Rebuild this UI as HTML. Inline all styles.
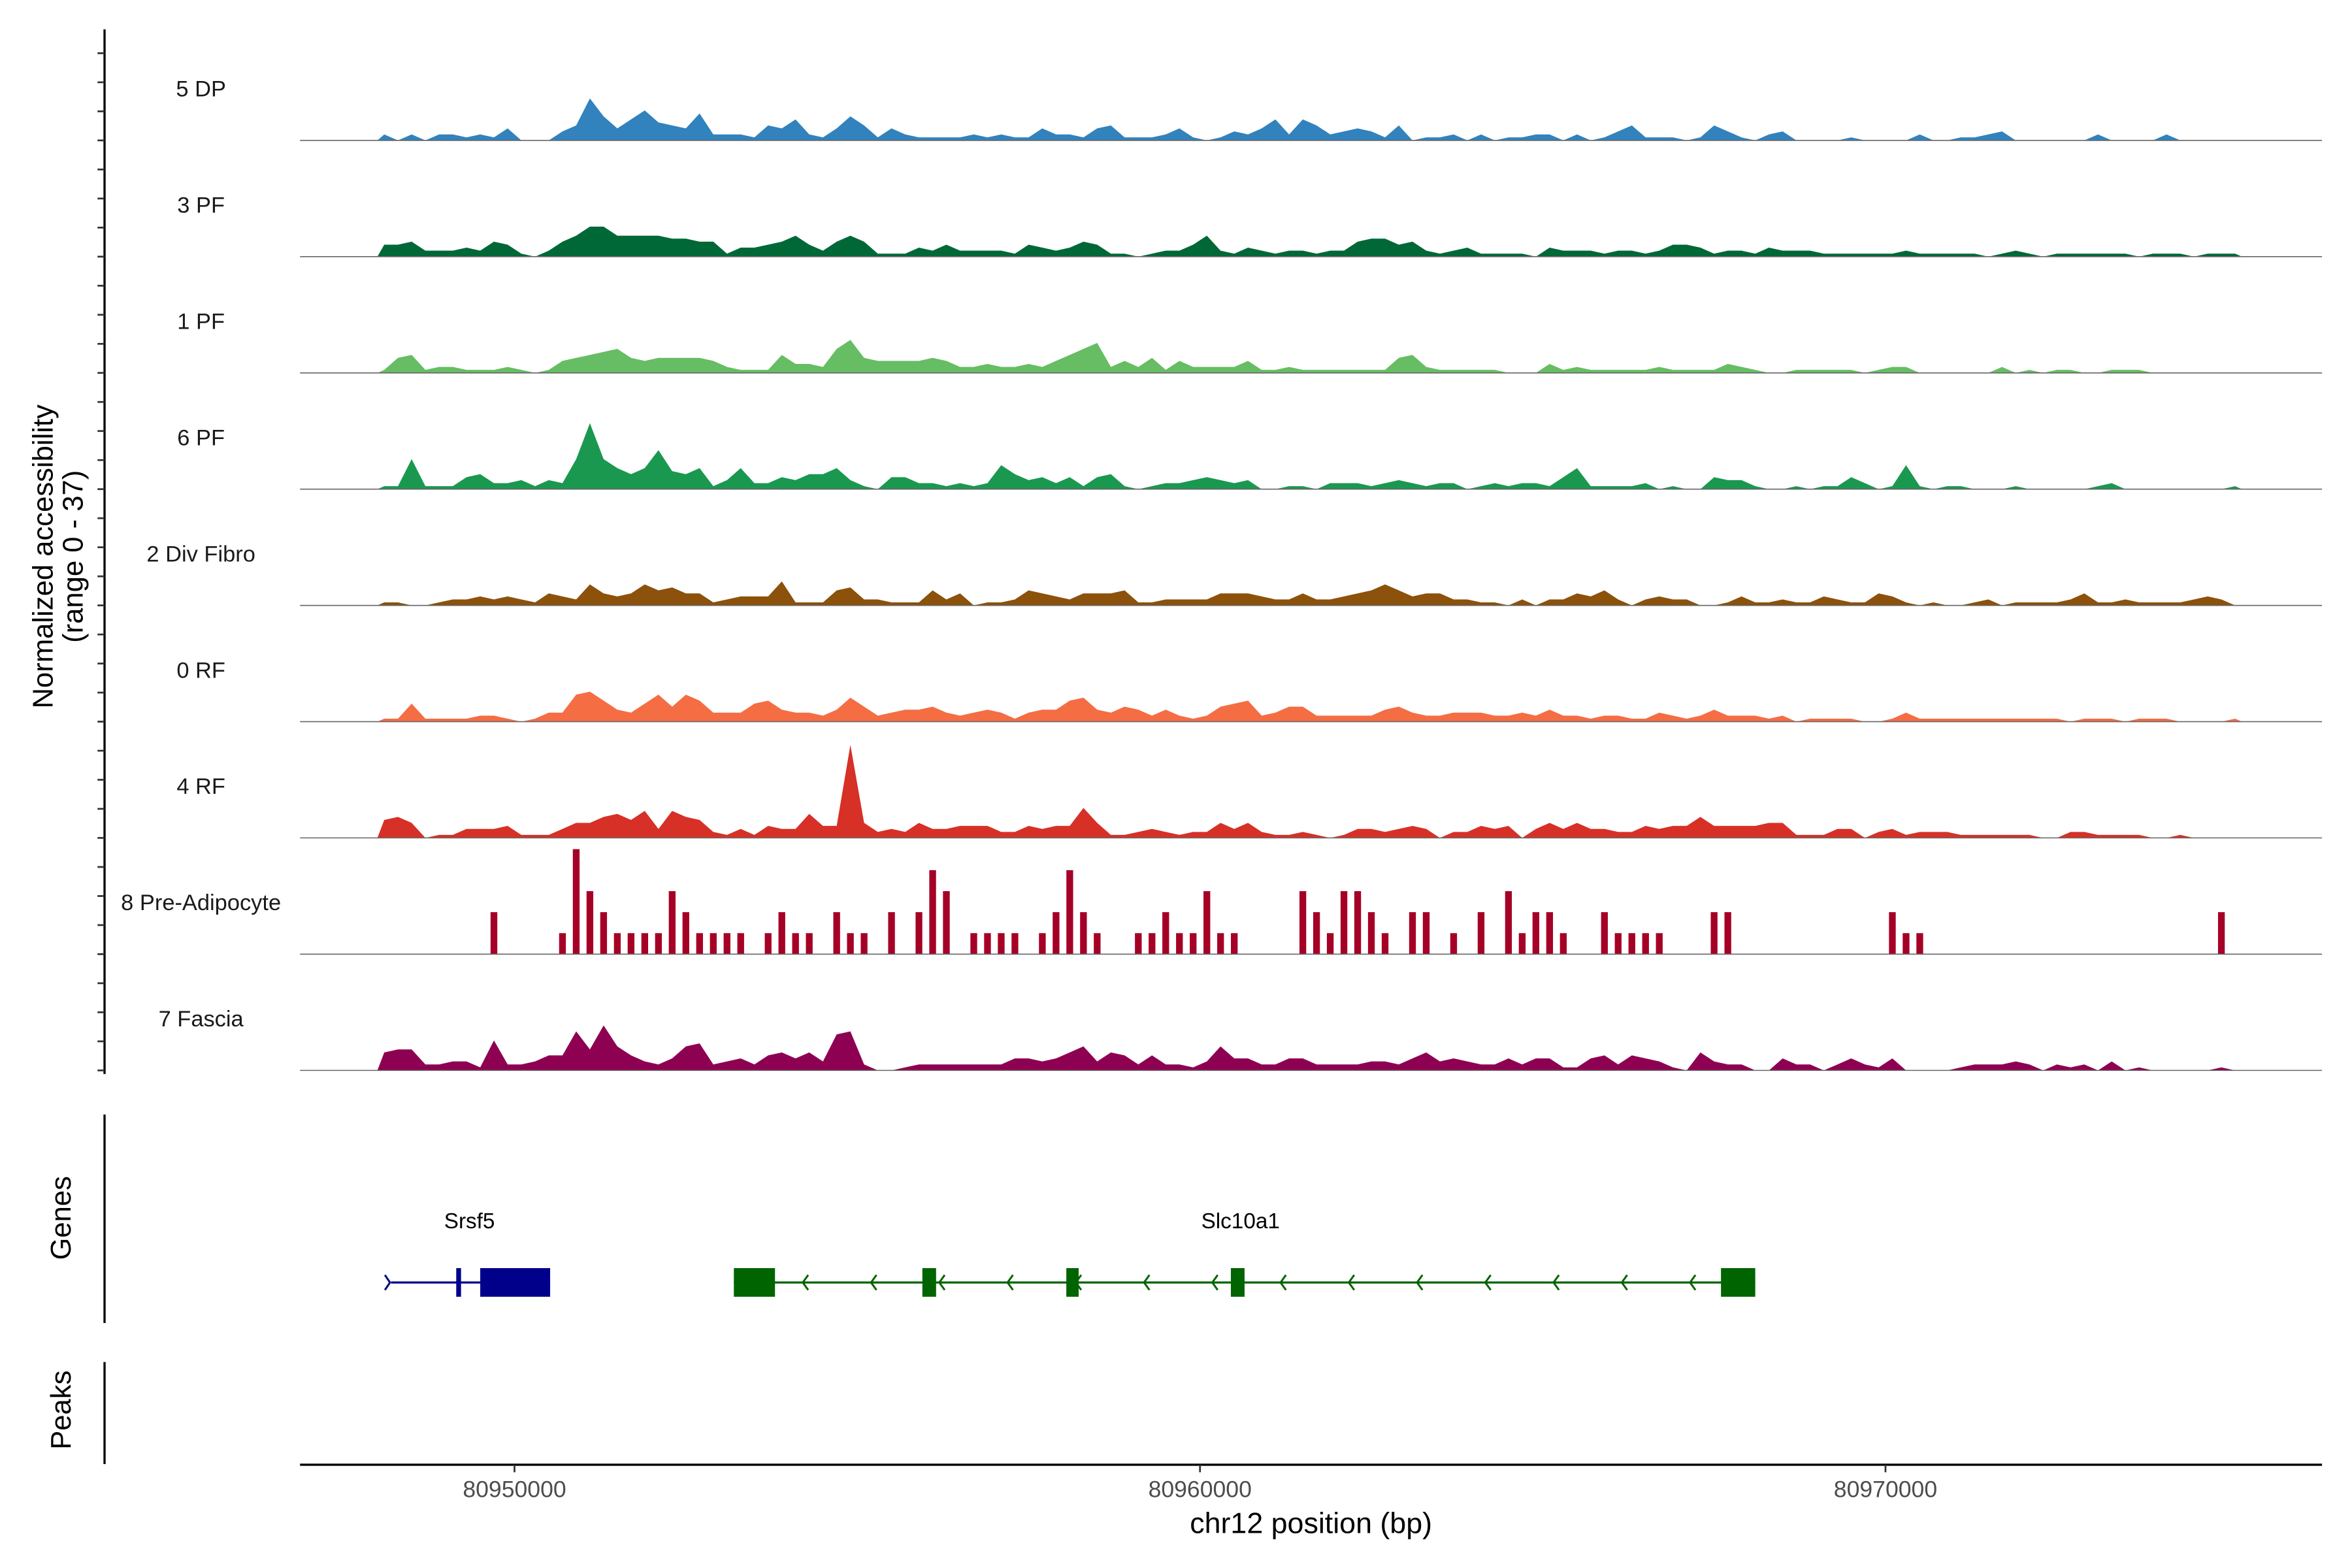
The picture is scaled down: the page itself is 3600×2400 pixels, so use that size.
<!DOCTYPE html>
<html><head><meta charset="utf-8"><title>Coverage plot</title>
<style>html,body{margin:0;padding:0;background:#fff;}svg{display:block;font-family:"Liberation Sans",Arial,sans-serif;}</style>
</head><body>
<svg id="chart" xmlns="http://www.w3.org/2000/svg" width="3600" height="2400" viewBox="0 0 1568 1045.33" preserveAspectRatio="none">
<g id="axes"></g>
<g id="tracks"></g>
<g id="genes"></g>
</svg>
<script>
const trackNames = ["5 DP","3 PF","1 PF","6 PF","2 Div Fibro","0 RF","4 RF","8 Pre-Adipocyte","7 Fascia"];
const trackColors = ["#3182BD","#006837","#66BD63","#1A9850","#8C510A","#F46D43","#D73027","#A50026","#8E0152"];
const binStart = 80948000;
const binSize = 200;
const xTicks = [80950000, 80960000, 80970000];
const dp = [2,0,2,0,2,2,1,2,1,4, 0,0,0,3,5,14,8,4,7,10, 6,5,4,9,2,2,2,1,5,4, 7,2,1,4,8,5,1,4,2,1, 1,1,1,2,1,2,1,1,4,2, 2,1,4,5,1,1,1,2,4,1, 0,1,3,2,4,7,2,7,5,2, 3,4,3,1,5,0,1,1,2,0, 2,0,1,1,2,2,0,2,0,1, 3,5,1,1,1,0,1,5,3,1, 0,2,3,0,0,0,0,1,0,0, 0,0,2,0,0,1,1,2,3,0, 0,0,0,0,0,2,0,0,0,0, 2,0,0,0,0,0];
const pf3 = [4,4,5,2,2,2,3,2,5,4, 1,0,2,5,7,10,10,7,7,7, 7,6,6,5,5,1,3,3,4,5, 7,4,2,5,7,5,1,1,1,3, 2,4,2,2,2,2,1,4,3,2, 3,5,4,1,1,0,1,2,2,4, 7,2,1,3,2,1,2,2,1,2, 2,5,6,6,4,5,2,1,2,3, 1,1,1,1,0,3,2,2,2,1, 2,2,1,2,4,4,3,1,2,2, 1,3,2,2,2,1,1,1,1,1, 1,2,1,1,1,1,1,0,1,2, 1,0,1,1,1,1,1,1,0,1, 1,1,0,1,1,1];
const pf1 = [1,5,6,1,2,2,1,1,1,2, 1,0,1,4,5,6,7,8,5,4, 5,5,5,5,4,2,1,1,1,6, 3,3,2,8,11,5,4,4,4,4, 5,4,2,2,3,2,2,3,2,4, 6,8,10,2,4,2,5,1,4,2, 2,2,2,4,1,1,2,1,1,1, 1,1,1,1,5,6,2,1,1,1, 1,1,0,0,0,3,1,2,1,1, 1,1,1,2,1,1,1,1,3,2, 1,0,0,1,1,1,1,1,0,1, 2,2,0,0,0,0,0,0,2,0, 1,0,1,1,0,0,1,1,1,0, 0,0,0,0,0,0];
const pf6 = [1,1,10,1,1,1,4,5,2,2, 3,1,3,2,10,22,10,7,5,7, 13,6,5,7,1,3,7,2,2,4, 3,5,5,7,3,1,0,4,4,2, 2,1,2,1,2,8,5,3,4,2, 4,1,4,5,1,0,1,2,2,3, 4,3,2,3,0,0,1,1,0,2, 2,2,1,2,3,2,1,2,2,0, 1,2,1,2,2,1,4,7,1,1, 1,1,2,0,1,0,0,4,3,3, 1,0,0,1,0,1,1,4,2,0, 1,8,1,0,1,1,0,0,0,1, 0,0,0,0,0,1,2,0,0,0, 0,0,0,0,0,1];
const divFibro = [1,1,0,0,1,2,2,3,2,3, 2,1,4,3,2,7,4,3,4,7, 5,6,4,4,1,2,3,3,3,8, 1,1,1,5,6,2,2,1,1,1, 5,2,4,0,1,1,2,5,4,3, 2,4,4,4,5,1,1,2,2,2, 2,4,4,4,3,2,2,4,2,2, 3,4,5,7,5,3,4,4,2,2, 1,1,0,2,0,2,2,4,3,5, 2,0,2,3,2,2,0,0,1,3, 1,1,2,1,1,3,2,1,1,4, 3,1,0,1,0,0,1,2,0,1, 1,1,1,2,4,1,1,2,1,1, 1,1,2,3,2,0];
const rf0 = [1,1,6,1,1,1,1,2,2,1, 0,1,3,3,9,10,7,4,3,6, 9,5,9,7,3,3,3,6,7,4, 3,3,2,4,8,5,2,3,4,4, 5,3,2,3,4,3,1,3,4,4, 7,8,4,3,5,4,2,4,2,1, 2,5,6,7,2,3,5,5,2,2, 2,2,2,4,5,3,2,2,3,3, 3,2,2,3,2,4,2,2,1,2, 2,1,1,3,2,1,2,4,2,2, 2,1,2,0,1,1,1,1,0,0, 1,3,1,1,1,1,1,1,1,1, 1,1,1,0,1,1,1,0,1,1, 1,0,0,0,0,1];
const rf4 = [6,7,5,0,1,1,3,3,3,4, 1,1,1,3,5,5,7,8,6,9, 3,9,7,6,2,1,3,1,4,3, 3,8,4,4,31,5,2,3,2,5, 3,3,4,4,4,2,2,4,3,4, 4,10,5,1,1,2,3,2,1,2, 2,5,3,5,2,1,1,2,1,0, 1,3,3,2,3,4,3,0,2,2, 4,3,4,0,3,5,3,5,3,3, 2,2,4,3,4,4,7,4,4,4, 4,5,5,1,1,1,3,3,0,2, 3,1,2,2,2,1,1,1,1,1, 1,0,0,2,2,1,1,1,1,0, 0,1,0,0,0,0];
const preAdipocyte = [0,0,0,0,0,0,0,0,14,0, 0,0,0,7,35,21,14,7,7,7, 7,21,14,7,7,7,7,0,7,14, 7,7,0,14,7,7,0,14,0,14, 28,21,0,7,7,7,7,0,7,14, 28,14,7,0,0,7,7,14,7,7, 21,7,7,0,0,0,0,21,14,7, 21,21,14,7,0,14,14,0,7,0, 14,0,21,7,14,14,7,0,0,14, 7,7,7,7,0,0,0,14,14,0, 0,0,0,0,0,0,0,0,0,0, 14,7,7,0,0,0,0,0,0,0, 0,0,0,0,0,0,0,0,0,0, 0,0,0,0,14,0];
const fascia = [6,7,7,2,2,3,3,1,10,2, 2,3,5,5,13,7,15,8,5,3, 2,4,8,9,2,3,4,2,5,6, 4,6,3,12,13,2,0,0,1,2, 2,2,2,2,2,2,4,4,3,4, 6,8,3,6,5,2,5,2,2,1, 3,8,4,4,2,2,4,4,2,2, 2,2,3,3,2,4,6,3,4,3, 2,2,4,2,4,4,1,1,4,5, 2,5,4,3,1,0,6,3,2,2, 0,0,4,2,2,0,2,4,2,1, 4,0,0,0,0,1,2,2,2,3, 2,0,2,1,2,0,3,0,1,0, 0,0,0,0,1,0];
const trackValues = [dp, pf3, pf1, pf6, divFibro, rf0, rf4, preAdipocyte, fascia];
const srsf5Exons = [[80949150, 80949220], [80949500, 80950520]];
const srsf5Span = [80948200, 80950520];
const slc10a1Exons = [[80953200, 80953800], [80955950, 80956150], [80958050, 80958230], [80960450, 80960650], [80967600, 80968100]];
const slc10a1Span = [80953200, 80968100];

const NS = "http://www.w3.org/2000/svg";
function xScale(bp){ return 343 + (bp - 80950000) * 0.0457; }
function baseY(t){ return 93.6 + 77.5 * t; }
function yScale(t, v){ return baseY(t) - v * 2; }
function mk(tag, attrs, parent){ const e = document.createElementNS(NS, tag); for (const k in attrs) e.setAttribute(k, attrs[k]); parent.appendChild(e); return e; }
const axes = document.getElementById('axes');
const tracks = document.getElementById('tracks');
const genes = document.getElementById('genes');

let l = mk('line', {x1:69.7, y1:19.6, x2:69.7, y2:716, stroke:'#000', 'stroke-width':1.45}, axes);


for (let y = baseY(8); y > 25; y -= 77.5/4) {
  const t = mk('line', {x1:65, y1:y, x2:69.7, y2:y, stroke:'#333', 'stroke-width':1.2}, axes);
  
  
}
let yt = mk('text', {x:0, y:0, transform:'translate(35,371) rotate(-90)', 'text-anchor':'middle', 'font-size':19, fill:'#000'}, axes);
yt.textContent = 'Normalized accessibility';


let yt2 = mk('text', {x:0, y:0, transform:'translate(55,371) rotate(-90)', 'text-anchor':'middle', 'font-size':19, fill:'#000'}, axes);
yt2.textContent = '(range 0 - 37)';



let gl = mk('line', {x1:69.7, y1:743, x2:69.7, y2:882, stroke:'#000', 'stroke-width':1.45}, axes);


let pl = mk('line', {x1:69.7, y1:908, x2:69.7, y2:976, stroke:'#000', 'stroke-width':1.45}, axes);


let gt = mk('text', {x:0, y:0, transform:'translate(47,812) rotate(-90)', 'text-anchor':'middle', 'font-size':19}, axes);
gt.textContent = 'Genes';


let pt = mk('text', {x:0, y:0, transform:'translate(47,940) rotate(-90)', 'text-anchor':'middle', 'font-size':19}, axes);
pt.textContent = 'Peaks';



let xl = mk('line', {x1:200, y1:976.5, x2:1548, y2:976.5, stroke:'#000', 'stroke-width':1.45}, axes);


xTicks.forEach(v => {
  const x = xScale(v);
  const t = mk('line', {x1:x, y1:976.5, x2:x, y2:981.5, stroke:'#333', 'stroke-width':1.2}, axes);
  
  
  const tl = mk('text', {x:x, y:998, 'text-anchor':'middle', 'font-size':15.5, fill:'#4d4d4d'}, axes);
  tl.textContent = String(v);
  
  
});
let xt = mk('text', {x:874, y:1022, 'text-anchor':'middle', 'font-size':19.5, fill:'#000'}, axes);
xt.textContent = 'chr12 position (bp)';



trackValues.forEach((vals, t) => {
  const g = mk('g', {}, tracks);
  
  
  const b = baseY(t);
  if (t === 7) {
    vals.forEach((v, i) => {
      if (v <= 0) return;
      const cx = xScale(binStart + binSize * i + binSize / 2);
      const r = mk('rect', {x:cx - 2.25, y:yScale(t, v), width:4.5, height:b - yScale(t, v), fill:trackColors[t]}, g);
      
      
    });
  } else {
    let d = 'M' + xScale(binStart).toFixed(2) + ',' + b;
    vals.forEach((v, i) => {
      const cx = xScale(binStart + binSize * i + binSize / 2);
      d += ' L' + cx.toFixed(2) + ',' + yScale(t, v).toFixed(2);
    });
    d += ' L' + xScale(binStart + binSize * vals.length).toFixed(2) + ',' + b + ' Z';
    const p = mk('path', {d:d, fill:trackColors[t], stroke:'none'}, g);
    
    
  }
  const bl = mk('line', {x1:200, y1:b, x2:1548, y2:b, stroke:'#666', 'stroke-width':0.7}, g);
  
  
  const lab = mk('text', {x:134, y:b - 29.3, 'text-anchor':'middle', 'font-size':15, fill:'#1a1a1a'}, g);
  lab.textContent = trackNames[t];
  
  
});

function drawGene(name, span, exons, color, labelX) {
  const g = mk('g', {}, genes);
  
  
  const y = 855;
  const ln = mk('line', {x1:xScale(span[0]), y1:y, x2:xScale(span[1]), y2:y, stroke:color, 'stroke-width':1.45}, g);
  
  
  exons.forEach(e => {
    const x0 = xScale(e[0]), x1 = xScale(e[1]);
    const r = mk('rect', {x:x0, y:845.4, width:Math.max(2.5, x1 - x0), height:19.1, fill:color}, g);
    
    
  });
  const lab = mk('text', {x:labelX, y:818.8, 'text-anchor':'middle', 'font-size':14.5, fill:'#000'}, g);
  lab.textContent = name;
  
  
  return g;
}
const g1 = drawGene('Srsf5', srsf5Span, srsf5Exons, '#00008B', 313);
let ch = mk('path', {d:'M256.6,850 L260,855 L256.6,860', fill:'none', stroke:'#00008B', 'stroke-width':1.3}, g1);


const g2 = drawGene('Slc10a1', slc10a1Span, slc10a1Exons, '#006400', 827);
for (let k = 0; k < 14; k++) {
  const cx = 537 + 45.5 * k;
  const c = mk('path', {d:'M' + (cx + 1.8) + ',850 L' + (cx - 1.8) + ',855 L' + (cx + 1.8) + ',860', fill:'none', stroke:'#006400', 'stroke-width':1.3}, g2);
  
  
}
</script>
</body></html>
